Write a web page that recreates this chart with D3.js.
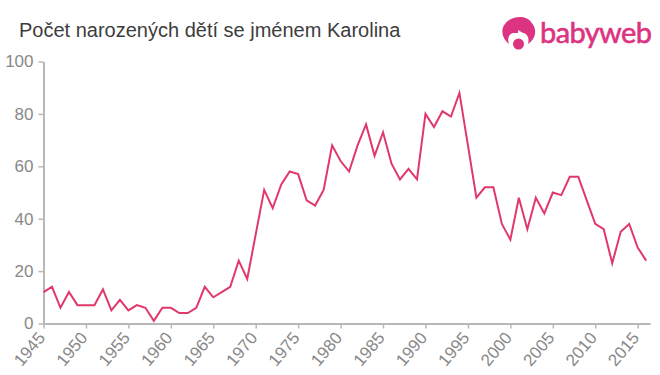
<!DOCTYPE html>
<html>
<head>
<meta charset="utf-8">
<script src="https://cdn.jsdelivr.net/npm/d3@7"></script>
<style>
  html, body { margin: 0; padding: 0; background: #fff; }
  svg { display: block; font-family: "Liberation Sans", Arial, sans-serif; }
</style>
</head>
<body>
<svg id="chart" width="660" height="375"></svg>
<script>
// -----------------------------
// DATA
// -----------------------------
const titleText = "Počet narozených dětí se jménem Karolina";
const logoText = "babyweb";
const startYear = 1945;
const births = [
  12, 14, 6, 12, 7, 7, 7, 13, 5, 9, 5, 7, 6, 1, 6, 6, 4, 4, 6, 14,
  10, 12, 14, 24, 17, 34, 51, 44, 53, 58, 57, 47, 45, 51, 68, 62, 58, 68, 76, 64,
  73, 61, 55, 59, 55, 80, 75, 81, 79, 88, 68, 48, 52, 52, 38, 32, 48, 36, 48, 42,
  50, 49, 56, 56, 47, 38, 36, 23, 35, 38, 29, 24
];
const xTicks = d3.range(1945, 2016, 5);
const yTicks = [0, 20, 40, 60, 80, 100];

const svg = d3.select("#chart");

// -----------------------------
// SCALES
// -----------------------------
const x = d3.scaleLinear().domain([1945, 2016.45]).range([43.5, 650]);
const y = d3.scaleLinear().domain([0, 100]).range([323.5, 61.5]);

// -----------------------------
// AXES
// -----------------------------
const axisColor = "#b8b8b8";
const labelColor = "#888";

const xAxis = svg.append("g")
  .attr("transform", "translate(0,323.5)")
  .call(d3.axisBottom(x).tickValues(xTicks).tickFormat(d3.format("d")).tickSize(5).tickSizeOuter(0));

xAxis.selectAll("text")
  .attr("font-size", 17)
  .attr("fill", labelColor)
  .attr("text-anchor", "end")
  .attr("dx", 0)
  .attr("dy", 0)
  .attr("x", -10)
  .attr("y", 11)
  .attr("transform", "rotate(-50)");

const yAxis = svg.append("g")
  .attr("transform", "translate(43.5,0)")
  .call(d3.axisLeft(y).tickValues(yTicks).tickSize(5).tickSizeOuter(0));

yAxis.selectAll("text")
  .attr("font-size", 17)
  .attr("fill", labelColor)
  .attr("x", -10);

svg.selectAll(".domain").attr("stroke", axisColor).attr("stroke-width", 2);
svg.selectAll(".tick line").attr("stroke", axisColor).attr("stroke-width", 1.5);

// -----------------------------
// LINE
// -----------------------------
const line = d3.line()
  .x((d, i) => x(startYear + i))
  .y(d => y(d));

svg.append("path")
  .datum(births)
  .attr("d", line)
  .attr("fill", "none")
  .attr("stroke", "#e0386a")
  .attr("stroke-width", 2)
  .attr("stroke-linejoin", "miter");

// -----------------------------
// TITLE
// -----------------------------
svg.append("text")
  .attr("x", 19)
  .attr("y", 37)
  .attr("font-size", 20)
  .attr("fill", "#3d3d3d")
  .text(titleText);

// -----------------------------
// LOGO
// -----------------------------
const logo = svg.append("g").attr("fill", "#dc3480");

logo.append("path")
  .attr("d", "M509 44 C501 38 501 28 505 24 C510 16 526 14 531 22 C537 28 537 38 528 44 C530 37 526 33 523 33 L518 30 L518 33 L513 33 C509 34 507 38 509 44 Z");
logo.append("circle").attr("cx", 518.5).attr("cy", 44).attr("r", 5.5);

logo.append("text")
  .attr("x", 540)
  .attr("y", 43)
  .attr("font-family", "Lato, 'Open Sans', sans-serif")
  .attr("font-size", 29)
  .attr("stroke", "#dc3480")
  .attr("stroke-width", 0.6)
  .attr("textLength", 112)
  .text(logoText);
</script>
</body>
</html>
